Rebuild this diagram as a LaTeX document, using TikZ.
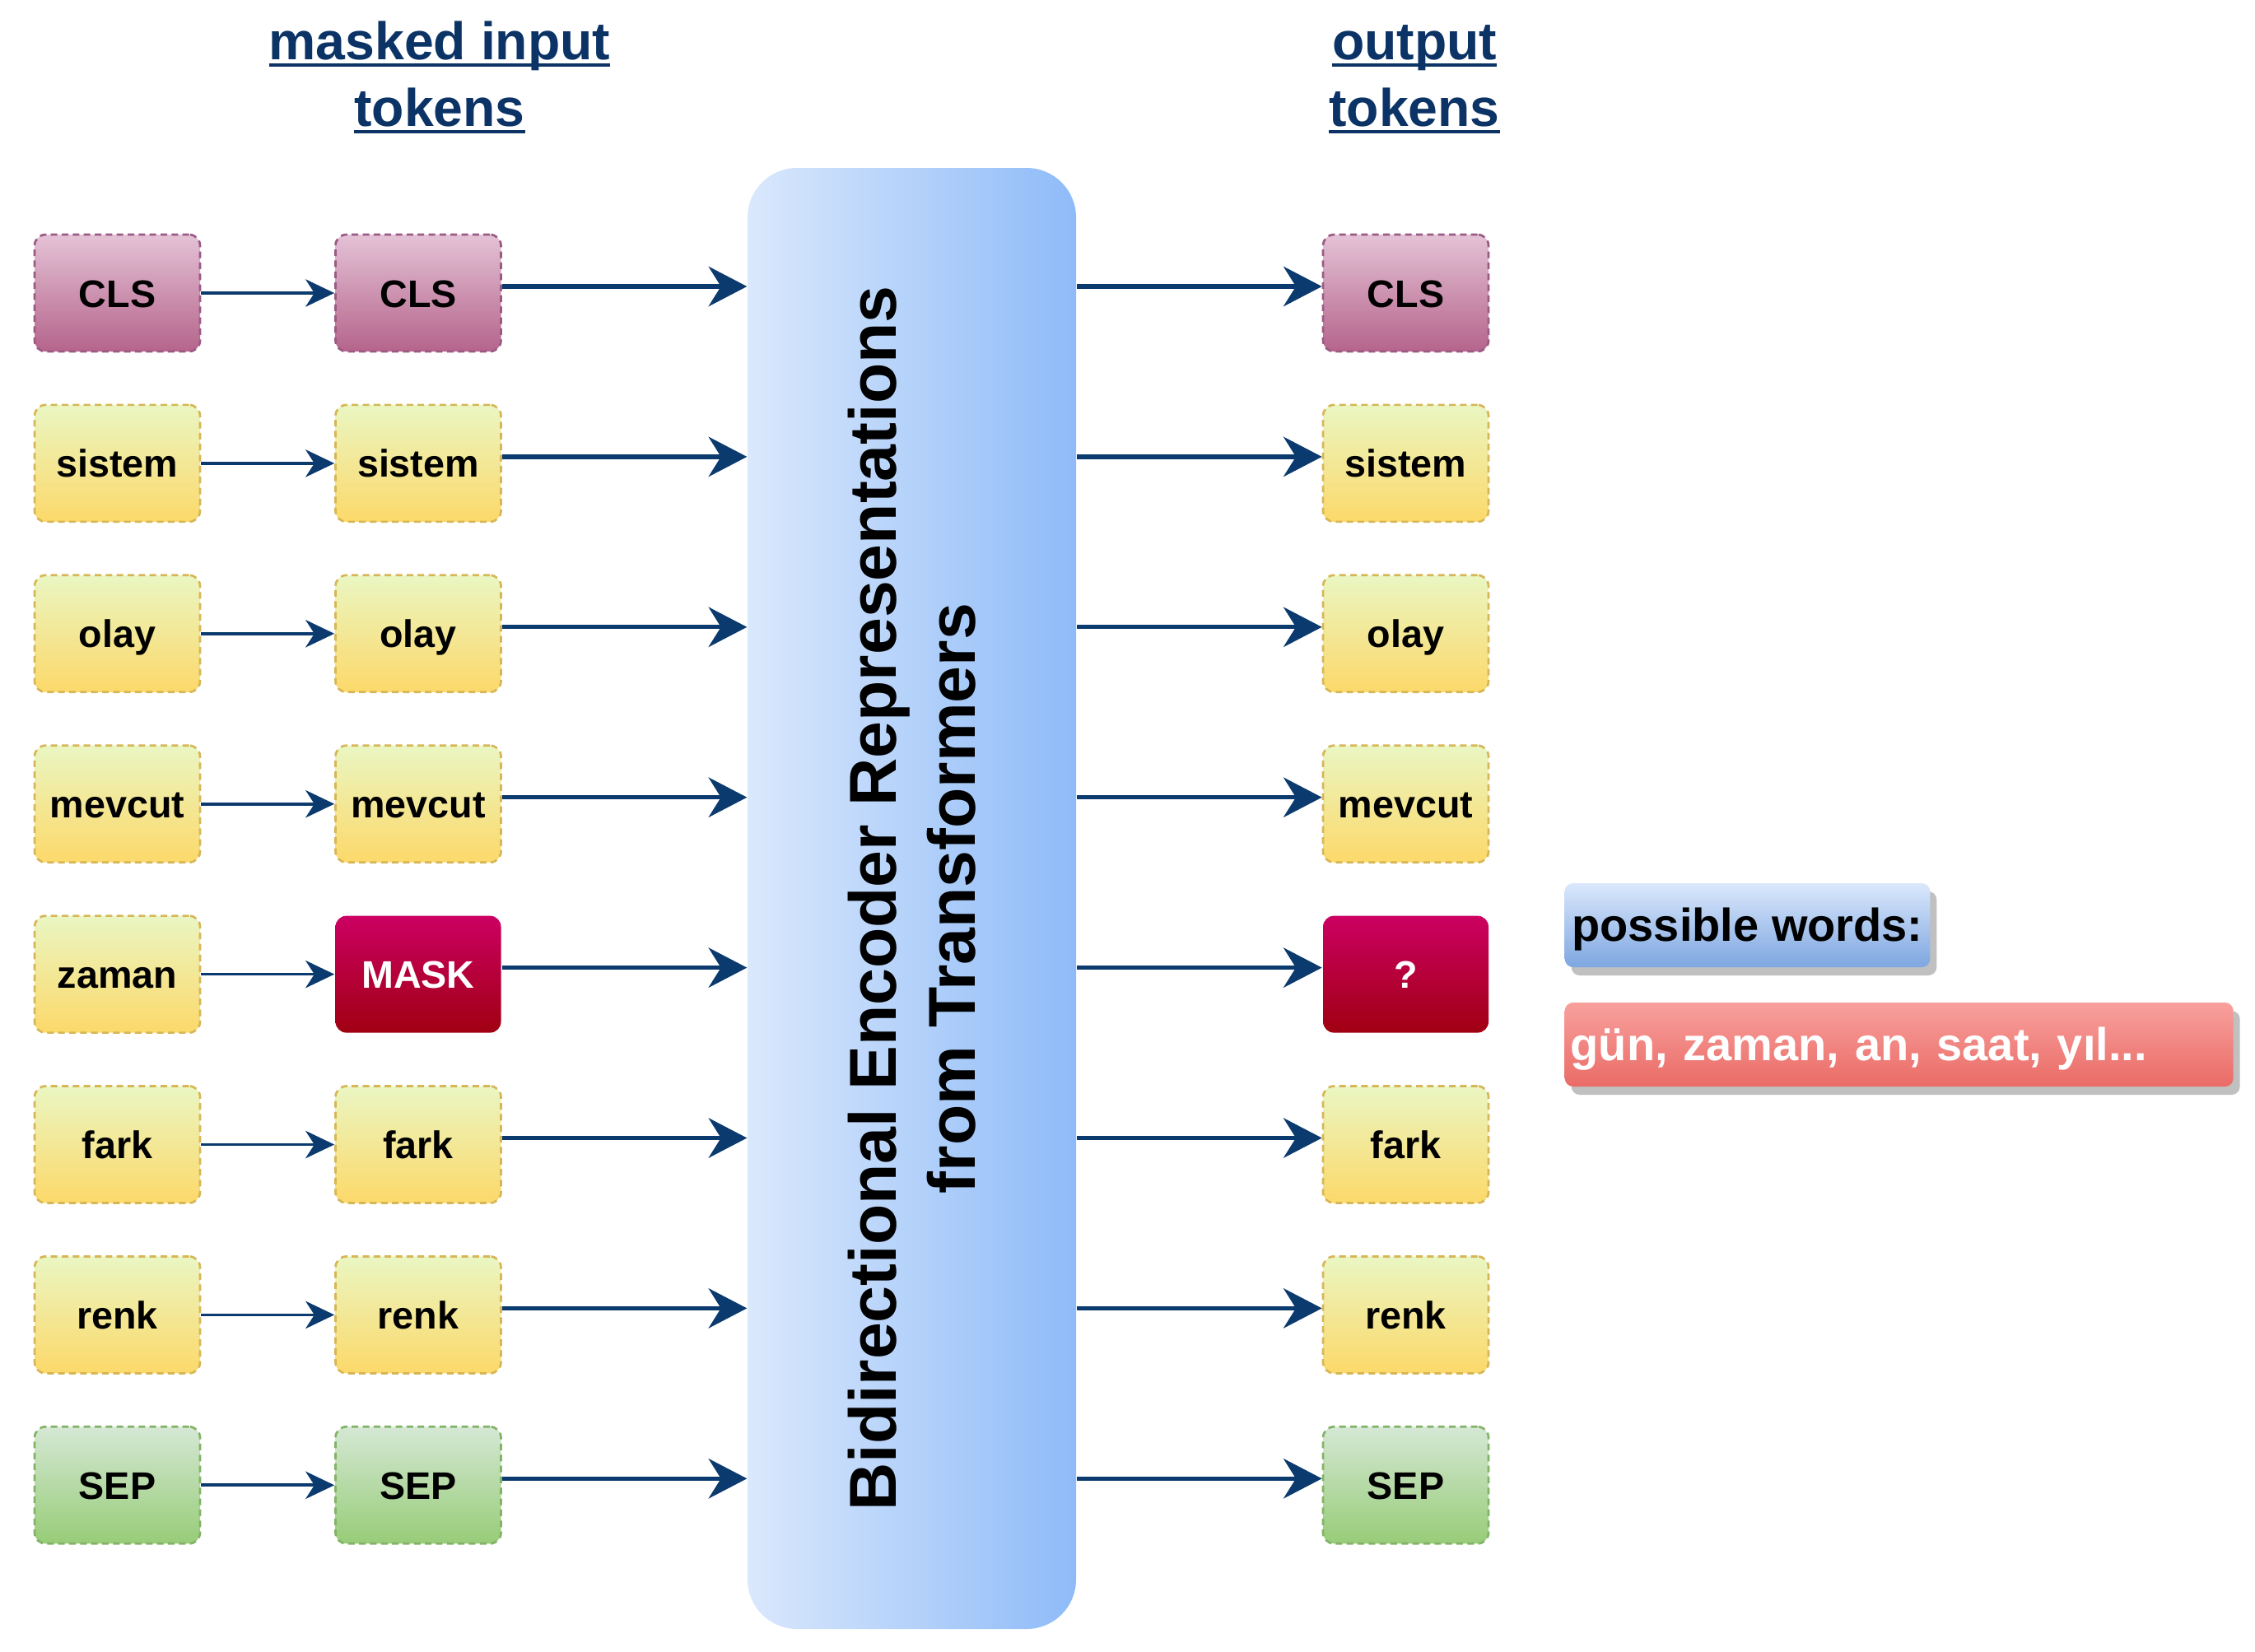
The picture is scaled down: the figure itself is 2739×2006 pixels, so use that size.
\documentclass[tikz,border=0pt]{standalone}
\usepackage{fontspec}
\setmainfont{Liberation Sans}
\newcommand{\myul}[1]{\setbox0\hbox{#1}\rlap{\raisebox{-2.6pt}{\rule{\wd0}{1.2pt}}}\box0}
\usetikzlibrary{arrows.meta,shadows}
\definecolor{arrowblue}{HTML}{0B3A6E}
\definecolor{titleblue}{HTML}{0B3366}
\definecolor{pinktop}{HTML}{E4C2D6}
\definecolor{pinkbot}{HTML}{B5648B}
\definecolor{pinkdraw}{HTML}{9A5A84}
\definecolor{yeltop}{HTML}{EAF6C2}
\definecolor{yelbot}{HTML}{FCD96A}
\definecolor{yeldraw}{HTML}{D6B656}
\definecolor{grntop}{HTML}{D5E8D4}
\definecolor{grnbot}{HTML}{97CC78}
\definecolor{grndraw}{HTML}{82B366}
\definecolor{masktop}{HTML}{CC0062}
\definecolor{maskbot}{HTML}{A00012}
\definecolor{bertleft}{HTML}{DAE8FC}
\definecolor{bertright}{HTML}{8EBBF8}
\definecolor{pwtop}{HTML}{DAE8FC}
\definecolor{pwbot}{HTML}{7EA6E0}
\definecolor{redtop}{HTML}{F8A09D}
\definecolor{redbot}{HTML}{EA6B66}
\definecolor{shadowgray}{HTML}{C0C0C0}
\begin{document}
\begin{tikzpicture}[x=0.3pt,y=-0.3pt,
  tok/.style={rectangle, rounded corners=4pt, minimum width=60.3pt,
    minimum height=42.6pt, inner sep=0pt, line width=0.8pt,
    text height=10.2pt, text depth=0pt,
    font=\fontsize{14}{16}\selectfont\bfseries},
  dashtok/.style={tok, dash pattern=on 2.4pt off 1.6pt},
  pinktok/.style={dashtok, draw=pinkdraw, top color=pinktop, bottom color=pinkbot},
  yeltok/.style={dashtok, draw=yeldraw, top color=yeltop, bottom color=yelbot},
  grntok/.style={dashtok, draw=grndraw, top color=grntop, bottom color=grnbot},
  masktok/.style={tok, top color=masktop, bottom color=maskbot, text=white},
  bertbox/.style={rectangle, rounded corners=18pt, minimum width=119.7pt,
    minimum height=532.5pt, inner sep=0pt, left color=bertleft, right color=bertright},
  bigarr/.style={draw=arrowblue, line width=1.6pt,
    -{Stealth[length=14pt, width=14.5pt, inset=4.5pt]}},
  smallarr/.style={draw=arrowblue, line width=1.1pt,
    -{Stealth[length=10.5pt, width=10pt, inset=3.2pt]}},
  titletext/.style={text=titleblue, align=center,
    font=\fontsize{19.3}{24.3}\selectfont\bfseries},
  wordbox/.style={rectangle, rounded corners=3pt, inner xsep=2.1pt, inner ysep=0pt,
    minimum height=30.6pt, align=left, anchor=west,
    text height=12pt, text depth=0.3pt,
    font=\fontsize{16.8}{19}\selectfont\bfseries,
    drop shadow={shadow xshift=2.4pt, shadow yshift=-3pt, fill=shadowgray, opacity=1}}
]
\useasboundingbox (0,0) rectangle (2739,2006);

\node[titletext, anchor=base] (tin) at (534,153) {\myul{masked input}\\\myul{tokens}};
\node[titletext, anchor=base] (tout) at (1718,153) {\myul{output}\\\myul{tokens}};

\node[bertbox] (bert) at (1107.5,1091.5)
  {\rotatebox{90}{\fontsize{24.2}{28.8}\selectfont\bfseries
   \vbox{\halign{\hfil#\hfil\cr Bidirectional Encoder Representations\cr from Transformers\cr}}}};

\foreach \i/\lt/\mt/\ot/\ls/\ms/\os in {
  1/CLS/CLS/CLS/pinktok/pinktok/pinktok,
  2/sistem/sistem/sistem/yeltok/yeltok/yeltok,
  3/olay/olay/olay/yeltok/yeltok/yeltok,
  4/mevcut/mevcut/mevcut/yeltok/yeltok/yeltok,
  5/zaman/MASK/?/yeltok/masktok/masktok,
  6/fark/fark/fark/yeltok/yeltok/yeltok,
  7/renk/renk/renk/yeltok/yeltok/yeltok,
  8/SEP/SEP/SEP/grntok/grntok/grntok}{
  \pgfmathsetmacro\yy{356+206.9*(\i-1)}
  \node[\ls] (l\i) at (142.5,\yy) {\lt};
  \node[\ms] (m\i) at (508,\yy) {\mt};
  \node[\os] (o\i) at (1707.5,\yy) {\ot};
  \coordinate (s\i) at ([yshift=2.4pt]m\i.east);
  \draw[smallarr] (l\i.east) -- (m\i.west);
  \draw[bigarr] (s\i) -- (s\i -| bert.west);
  \draw[bigarr] (s\i -| bert.east) -- (s\i -| o\i.west);
}

\node[wordbox, top color=pwtop, bottom color=pwbot, inner xsep=2.6pt] (pw) at (1900,1124) {possible words:};
\node[wordbox, top color=redtop, bottom color=redbot, text=white, text width=239.4pt] (cand) at (1900,1269) {gün, zaman, an, saat, yıl...};
\end{tikzpicture}
\end{document}
